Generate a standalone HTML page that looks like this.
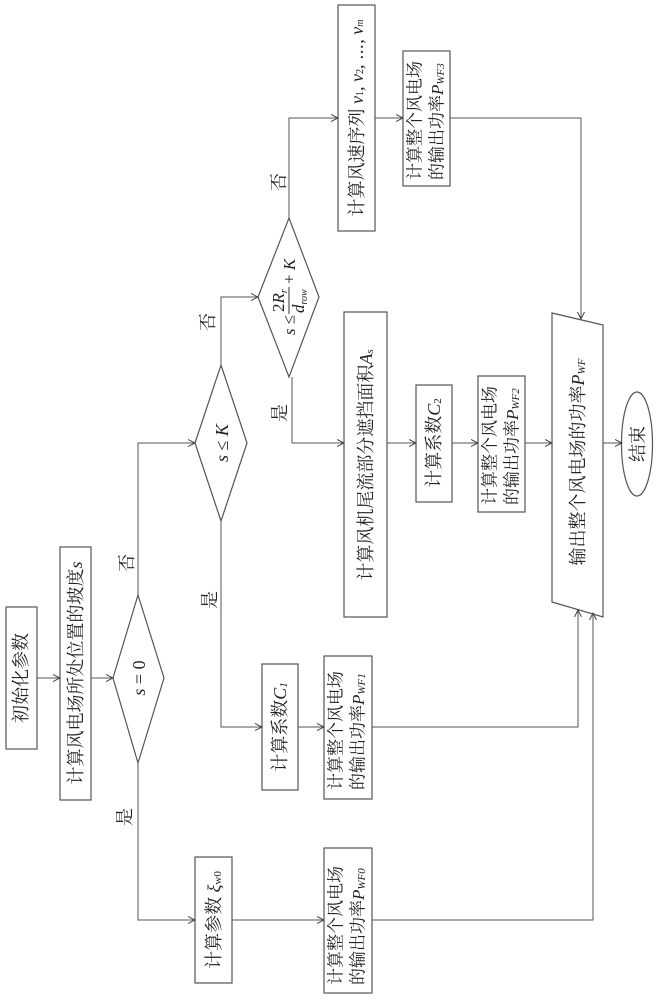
<!DOCTYPE html>
<html><head><meta charset="utf-8"><style>
html,body{margin:0;padding:0;background:#fff;}
svg{display:block;}
text{font-family:"Liberation Serif","Noto Serif CJK SC",serif;fill:#222;}
.i{font-style:italic;}
</style></head><body>
<svg width="660" height="1000" viewBox="0 0 660 1000" xmlns="http://www.w3.org/2000/svg">
<defs>
<marker id="a" markerWidth="8" markerHeight="8" refX="7" refY="4" orient="auto" markerUnits="userSpaceOnUse">
<polyline points="0,0.5 7,4 0,7.5" fill="none" stroke="#444" stroke-width="1"/>
</marker>
</defs>
<g fill="none" stroke="#555" stroke-width="1.2">
<rect x="6" y="607" width="31" height="142"/>
<rect x="60" y="547" width="31" height="253"/>
<polygon points="113,678 138,595 164,678 138,763"/>
<rect x="195" y="857" width="37" height="126"/>
<rect x="324" y="848" width="48" height="145"/>
<rect x="262" y="664" width="36" height="126"/>
<rect x="324" y="656" width="48" height="143"/>
<polygon points="195,443 221,365 247,443 221,521"/>
<polygon points="258,297 289,218 319,297 289,377"/>
<rect x="338" y="5" width="37" height="226"/>
<rect x="403" y="51" width="47" height="135"/>
<rect x="344" y="312" width="43" height="305"/>
<rect x="416" y="385" width="36" height="117"/>
<rect x="478" y="376" width="47" height="136"/>
<polygon points="552,313 603,325 603,617 552,602"/>
<ellipse cx="637" cy="444" rx="15.5" ry="52"/>
</g>
<g fill="none" stroke="#555" stroke-width="1" marker-end="url(#a)">
<polyline points="37,678 60,678"/>
<polyline points="91,678 113,678"/>
<polyline points="138,763 138,920 195,920"/>
<polyline points="232,920 324,920"/>
<polyline points="138,595 138,443 195,443"/>
<polyline points="221,521 221,727 262,727"/>
<polyline points="298,727 324,727"/>
<polyline points="221,365 221,297 258,297"/>
<polyline points="289,218 289,118 338,118"/>
<polyline points="375,118 403,118"/>
<polyline points="450,118 581,118 581,319"/>
<polyline points="292,377 292,443 344,443"/>
<polyline points="387,443 416,443"/>
<polyline points="452,443 478,443"/>
<polyline points="525,443 552,443"/>
<polyline points="603,443 622,443"/>
<polyline points="372,727 578,727 578,610"/>
<polyline points="372,920 593,920 593,613"/>
</g>
<g font-size="18">
<text transform="translate(21,678) rotate(-90)" text-anchor="middle" dominant-baseline="central">初始化参数</text>
<text transform="translate(76,673) rotate(-90)" text-anchor="middle" dominant-baseline="central">计算风电场所处位置的坡度<tspan class="i">s</tspan></text>
<text transform="translate(139,678) rotate(-90)" text-anchor="middle" dominant-baseline="central"><tspan class="i">s</tspan> = 0</text>
<text transform="translate(214,920) rotate(-90)" text-anchor="middle" dominant-baseline="central">计算参数 <tspan class="i">ξ</tspan><tspan font-size="11" dy="4">w0</tspan></text>
<text transform="translate(280,727) rotate(-90)" text-anchor="middle" dominant-baseline="central">计算系数<tspan class="i">C</tspan><tspan font-size="11" dy="4" class="i">1</tspan></text>
<text transform="translate(222,443) rotate(-90)" text-anchor="middle" dominant-baseline="central"><tspan class="i">s</tspan> ≤ <tspan class="i">K</tspan></text>
<text transform="translate(357,118) rotate(-90)" text-anchor="middle" dominant-baseline="central">计算风速序列 <tspan class="i">v</tspan><tspan font-size="10" dy="3">1</tspan><tspan dy="-3">, </tspan><tspan class="i">v</tspan><tspan font-size="10" dy="3">2</tspan><tspan dy="-3">, ⋯, </tspan><tspan class="i">v</tspan><tspan font-size="10" dy="3" class="i">m</tspan></text>
<text transform="translate(366,465) rotate(-90)" text-anchor="middle" dominant-baseline="central">计算风机尾流部分遮挡面积<tspan class="i">A</tspan><tspan font-size="11" dy="4" class="i">s</tspan></text>
<text transform="translate(434,443) rotate(-90)" text-anchor="middle" dominant-baseline="central">计算系数<tspan class="i">C</tspan><tspan font-size="11" dy="4">2</tspan></text>
<text transform="translate(578,462) rotate(-90)" text-anchor="middle" dominant-baseline="central">输出整个风电场的功率<tspan class="i">P</tspan><tspan font-size="11" dy="4" class="i">WF</tspan></text>
<text transform="translate(638,444) rotate(-90)" text-anchor="middle" dominant-baseline="central">结束</text>
<text transform="translate(127,563) rotate(-90)" text-anchor="middle" dominant-baseline="central">否</text>
<text transform="translate(125,817) rotate(-90)" text-anchor="middle" dominant-baseline="central">是</text>
<text transform="translate(208,322) rotate(-90)" text-anchor="middle" dominant-baseline="central">否</text>
<text transform="translate(210,600) rotate(-90)" text-anchor="middle" dominant-baseline="central">是</text>
<text transform="translate(279,182) rotate(-90)" text-anchor="middle" dominant-baseline="central">否</text>
<text transform="translate(280,413) rotate(-90)" text-anchor="middle" dominant-baseline="central">是</text>
</g>
<g font-size="17">
<text transform="translate(336,790) rotate(-90)" dominant-baseline="central">计算整个风电场</text>
<text transform="translate(358,790) rotate(-90)" dominant-baseline="central">的输出功率<tspan class="i">P</tspan><tspan font-size="11" dy="4" class="i">WF1</tspan></text>
<text transform="translate(336,985) rotate(-90)" dominant-baseline="central">计算整个风电场</text>
<text transform="translate(358,985) rotate(-90)" dominant-baseline="central">的输出功率<tspan class="i">P</tspan><tspan font-size="11" dy="4" class="i">WF0</tspan></text>
<text transform="translate(415,180) rotate(-90)" dominant-baseline="central">计算整个风电场</text>
<text transform="translate(437,180) rotate(-90)" dominant-baseline="central">的输出功率<tspan class="i">P</tspan><tspan font-size="11" dy="4" class="i">WF3</tspan></text>
<text transform="translate(490,505) rotate(-90)" dominant-baseline="central">计算整个风电场</text>
<text transform="translate(512,505) rotate(-90)" dominant-baseline="central">的输出功率<tspan class="i">P</tspan><tspan font-size="11" dy="4" class="i">WF2</tspan></text>
<g transform="translate(289,297) rotate(-90)">
<text x="-28" y="0" text-anchor="middle" dominant-baseline="central"><tspan class="i">s</tspan> ≤</text>
<line x1="-17" y1="0" x2="10" y2="0" stroke="#333" stroke-width="1"/>
<text x="-15" y="-5">2<tspan class="i">R</tspan><tspan font-size="10" dy="3" class="i">r</tspan></text>
<text x="-16" y="15"><tspan class="i">d</tspan><tspan font-size="10" dy="3" class="i">row</tspan></text>
<text x="13" y="0" dominant-baseline="central">+ <tspan class="i">K</tspan></text>
</g>
</g>
</svg>
</body></html>
